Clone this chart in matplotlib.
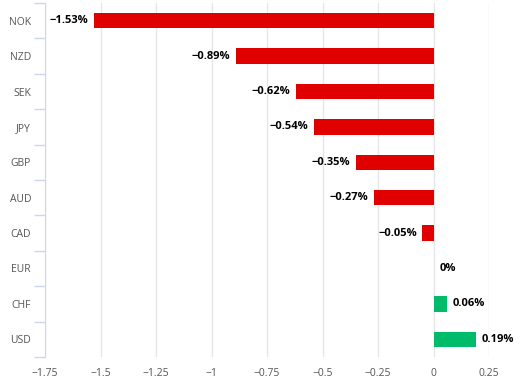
import matplotlib
matplotlib.use('Agg')
import matplotlib.pyplot as plt
import numpy as np

currencies = ['NOK', 'NZD', 'SEK', 'JPY', 'GBP', 'AUD', 'CAD', 'EUR', 'CHF', 'USD']
changes = [-1.53, -0.89, -0.62, -0.54, -0.35, -0.27, -0.05, 0.0, 0.06, 0.19]
labels = ['\u22121.53%', '\u22120.89%', '\u22120.62%', '\u22120.54%', '\u22120.35%',
          '\u22120.27%', '\u22120.05%', '0%', '0.06%', '0.19%']
xticks = [-1.75, -1.5, -1.25, -1, -0.75, -0.5, -0.25, 0, 0.25]
xticklabels = ['\u22121.75', '\u22121.5', '\u22121.25', '\u22121', '\u22120.75',
               '\u22120.5', '\u22120.25', '0', '0.25']

plt.rcParams['font.family'] = ['Open Sans', 'DejaVu Sans']

fig = plt.figure(figsize=(5.23, 3.8), dpi=100)
ax = fig.add_axes([45 / 523, 1 - 357 / 380, 444 / 523, 354 / 380])

y = np.arange(len(currencies))
colors = ['#e00000' if v < 0 else '#00bb6a' for v in changes]
ax.barh(y, changes, height=0.43, color=colors, zorder=3)

# value labels: left of negative bars, right of the others
for yi, v, lab in zip(y, changes, labels):
    if v < 0:
        ax.text(v - 0.025, yi, lab, ha='right', va='center', fontsize=8,
                fontweight='bold', color='black', zorder=4)
    else:
        ax.text(v + 0.028, yi, lab, ha='left', va='center', fontsize=8,
                fontweight='bold', color='black', zorder=4, clip_on=False)

ax.set_xlim(-1.75, 0.25)
ax.set_ylim(len(currencies) - 0.5, -0.5)
ax.set_xticks(xticks)
ax.set_xticklabels(xticklabels)
ax.tick_params(axis='x', length=0, labelsize=7.5, labelcolor='#555555', pad=8)

ax.set_yticks(y)
ax.set_yticklabels(currencies)
ax.tick_params(axis='y', which='major', length=0, labelsize=7.5,
               labelcolor='#555555', pad=10)
ax.set_yticks(np.arange(-0.5, len(currencies)), minor=True)
ax.tick_params(axis='y', which='minor', length=8, color='#ccd6eb', width=1)

ax.grid(axis='x', color='#e6e6e6', linewidth=1, zorder=0)
for s in ['top', 'right', 'bottom']:
    ax.spines[s].set_visible(False)
ax.spines['left'].set_color('#ccd6eb')

fig.savefig('out.png', dpi=100)
